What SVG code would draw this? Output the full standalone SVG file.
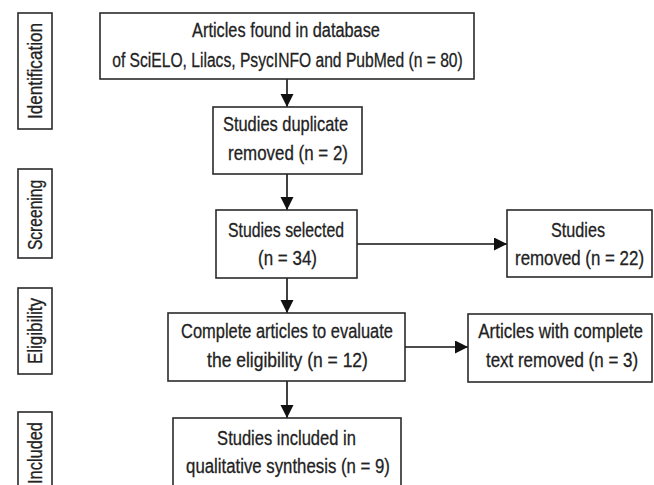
<svg xmlns="http://www.w3.org/2000/svg" width="654" height="485" viewBox="0 0 654 485">
<style>
  .box { fill: #ffffff; stroke: #2a2a2a; stroke-width: 1.6; }
  .t { font-family: "Liberation Sans", Arial, sans-serif; font-size: 21px; fill: #222222; stroke: #222222; stroke-width: 0.3; text-anchor: middle; }
  .p { font-family: "Liberation Sans", Arial, sans-serif; font-size: 20px; fill: #222222; stroke: #222222; stroke-width: 0.3; text-anchor: middle; }
  .c { stroke: #111111; stroke-width: 1.6; fill: none; marker-end: url(#ah); }
</style>
<defs>
  <marker id="ah" markerUnits="userSpaceOnUse" markerWidth="14" markerHeight="14" refX="13" refY="6.5" orient="auto">
    <path d="M0,0 L13,6.5 L0,13 z" fill="#111111"/>
  </marker>
</defs>
<rect width="654" height="485" fill="#ffffff"/>

<g id="phase-identification">
  <rect class="box" x="18" y="13" width="34" height="116"/>
  <text class="p" transform="translate(42,71) rotate(-90) scale(0.855,1)">Identification</text>
</g>
<g id="phase-screening">
  <rect class="box" x="18" y="169" width="34" height="89"/>
  <text class="p" transform="translate(42,215) rotate(-90) scale(0.78,1)">Screening</text>
</g>
<g id="phase-eligibility">
  <rect class="box" x="18" y="288" width="34" height="86"/>
  <text class="p" transform="translate(42,331) rotate(-90) scale(0.85,1)">Eligibility</text>
</g>
<g id="phase-included">
  <rect class="box" x="18" y="412" width="34" height="80"/>
  <text class="p" transform="translate(42,453) rotate(-90) scale(0.82,1)">Included</text>
</g>

<g id="connectors">
  <line class="c" x1="287" y1="79" x2="287" y2="107"/>
  <line class="c" x1="287" y1="174" x2="287" y2="210"/>
  <line class="c" x1="287" y1="278" x2="287" y2="313"/>
  <line class="c" x1="287" y1="381" x2="287" y2="418"/>
  <line class="c" x1="357" y1="244" x2="507" y2="244"/>
  <line class="c" x1="405" y1="347" x2="468" y2="347"/>
</g>

<g id="node-found">
  <rect class="box" x="100" y="13" width="374" height="66"/>
  <text class="t" transform="translate(286,37) scale(0.778,1)">Articles found in database</text>
  <text class="t" transform="translate(287.5,67) scale(0.745,1)">of SciELO, Lilacs, PsycINFO and PubMed (n = 80)</text>
</g>
<g id="node-duplicate">
  <rect class="box" x="213" y="107" width="149" height="67"/>
  <text class="t" transform="translate(285.5,131) scale(0.782,1)">Studies duplicate</text>
  <text class="t" transform="translate(288,160) scale(0.806,1)">removed (n = 2)</text>
</g>
<g id="node-selected">
  <rect class="box" x="216" y="210" width="141" height="68"/>
  <text class="t" transform="translate(286,237) scale(0.753,1)">Studies selected</text>
  <text class="t" transform="translate(287.5,265) scale(0.808,1)">(n = 34)</text>
</g>
<g id="node-studies-removed">
  <rect class="box" x="507" y="210" width="145" height="67"/>
  <text class="t" transform="translate(578,237) scale(0.771,1)">Studies</text>
  <text class="t" transform="translate(579.5,265) scale(0.804,1)">removed (n = 22)</text>
</g>
<g id="node-complete">
  <rect class="box" x="168" y="313" width="237" height="68"/>
  <text class="t" transform="translate(287,338) scale(0.783,1)">Complete articles to evaluate</text>
  <text class="t" transform="translate(287.5,367) scale(0.833,1)">the eligibility (n = 12)</text>
</g>
<g id="node-text-removed">
  <rect class="box" x="468" y="314" width="184" height="68"/>
  <text class="t" transform="translate(560.5,338) scale(0.812,1)">Articles with complete</text>
  <text class="t" transform="translate(562,367) scale(0.807,1)">text removed (n = 3)</text>
</g>
<g id="node-included">
  <rect class="box" x="173" y="418" width="228" height="75"/>
  <text class="t" transform="translate(286.5,445) scale(0.788,1)">Studies included in</text>
  <text class="t" transform="translate(288,473) scale(0.80,1)">qualitative synthesis (n = 9)</text>
</g>
</svg>
